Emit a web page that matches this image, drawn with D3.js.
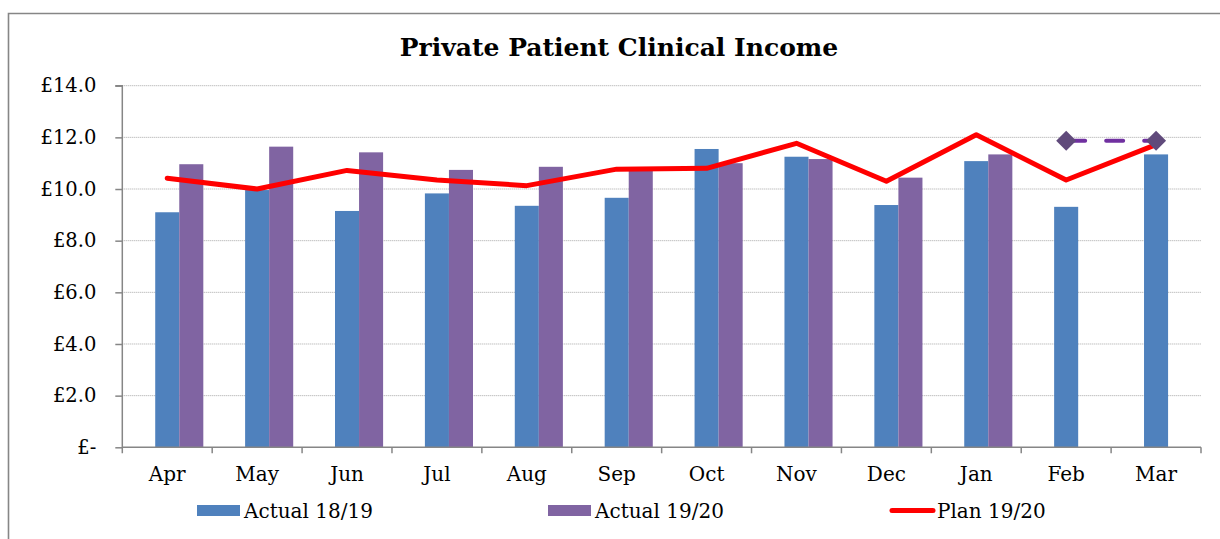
<!DOCTYPE html>
<html><head><meta charset="utf-8">
<script src="https://cdn.jsdelivr.net/npm/d3@7"></script>
<style>
html,body{margin:0;padding:0;background:#fff;}
svg{display:block;font-family:"DejaVu Serif",Georgia,serif;}
</style></head>
<body><svg id="c" width="1220" height="539"></svg>
<script>
const months = ["Apr","May","Jun","Jul","Aug","Sep","Oct","Nov","Dec","Jan","Feb","Mar"];
const actual1819 = [9.10, 9.96, 9.15, 9.83, 9.35, 9.66, 11.55, 11.25, 9.38, 11.08, 9.31, 11.34];
const actual1920 = [10.96, 11.64, 11.42, 10.74, 10.86, 10.75, 11.00, 11.16, 10.44, 11.34, null, null];
const plan1920 = [10.42, 10.00, 10.72, 10.35, 10.13, 10.77, 10.80, 11.77, 10.30, 12.10, 10.35, 11.72];
const forecast = [null, null, null, null, null, null, null, null, null, null, 11.87, 11.87];
const yTicks = [0, 2, 4, 6, 8, 10, 12, 14];
const legendLabels = ["Actual 18/19", "Actual 19/20", "Plan 19/20"];
const title = "Private Patient Clinical Income";

const svg = d3.select("#c");
const L = 122.3, R = 1201, T = 85.7, B = 447.3;

// outer frame
svg.append("path").attr("d", "M8.5,539 L8.5,13.5 L1220,13.5")
  .attr("fill","none").attr("stroke","#868686").attr("stroke-width",1.6);

svg.append("text").attr("x", 619).attr("y", 56).attr("text-anchor","middle")
  .attr("font-weight","bold").attr("font-size", 25).attr("fill","#000").text(title);

const x = d3.scaleBand().domain(months).range([L, R]).paddingInner(0).paddingOuter(0);
const sub = d3.scaleBand().domain(["hidden","a","b"]).range([0, x.bandwidth()]).paddingInner(0).paddingOuter(0.369);
const y = d3.scaleLinear().domain([0, 14]).range([B, T]);

// gridlines
svg.append("g").selectAll("line").data(yTicks.filter(d => d > 0)).join("line")
  .attr("x1", L).attr("x2", R).attr("y1", d => y(d)).attr("y2", d => y(d))
  .attr("stroke", "#a6a6a6").attr("stroke-width", 1).attr("stroke-dasharray", "1,1");

// bars
const g = svg.append("g");
g.selectAll("rect.a").data(actual1819.map((v,i)=>({m:months[i],v}))).join("rect")
  .attr("x", d => x(d.m) + sub("a")).attr("width", sub.bandwidth())
  .attr("y", d => y(d.v)).attr("height", d => B - y(d.v)).attr("fill", "#4F81BD");
g.selectAll("rect.b").data(actual1920.map((v,i)=>({m:months[i],v})).filter(d => d.v != null)).join("rect")
  .attr("x", d => x(d.m) + sub("b")).attr("width", sub.bandwidth())
  .attr("y", d => y(d.v)).attr("height", d => B - y(d.v)).attr("fill", "#8064A2");

// y axis
const yAxis = d3.axisLeft(y).tickValues(yTicks).tickSize(7).tickPadding(19)
  .tickFormat(d => d === 0 ? "£-" : "£" + d.toFixed(1));
const ya = svg.append("g").attr("transform", `translate(${L},0)`).call(yAxis);
ya.select(".domain").attr("stroke","#868686").attr("stroke-width",1.5).attr("d", `M-7,${T}H0V${B+6}`);
ya.selectAll(".tick line").attr("stroke","#868686").attr("stroke-width",1.5);
ya.selectAll("text").attr("font-size", 19.5).attr("fill","#000").attr("font-family","DejaVu Serif");

// x axis
const xAxis = d3.axisBottom(x).tickSize(0).tickPadding(20);
const xa = svg.append("g").attr("transform", `translate(0,${B})`).call(xAxis);
xa.select(".domain").attr("stroke","#868686").attr("stroke-width",1.5).attr("d", `M${L},0H${R}`);
xa.selectAll("text").attr("font-size", 20).attr("fill","#000").attr("font-family","DejaVu Serif");
xa.append("g").selectAll("line").data(months.slice(1).concat(["__end"])).join("line")
  .attr("x1", d => d === "__end" ? R : x(d)).attr("x2", d => d === "__end" ? R : x(d))
  .attr("y1", 0).attr("y2", 6).attr("stroke","#868686").attr("stroke-width",1.5);

// plan line
const line = d3.line().defined(d => d.v != null).x(d => x(d.m) + x.bandwidth()/2).y(d => y(d.v));
svg.append("path").datum(plan1920.map((v,i)=>({m:months[i],v})))
  .attr("d", line).attr("fill","none").attr("stroke","#FF0000").attr("stroke-width",5)
  .attr("stroke-linejoin","round").attr("stroke-linecap","round");

// forecast
const fc = forecast.map((v,i)=>({m:months[i],v})).filter(d => d.v != null);
svg.append("path").datum(fc).attr("d", line).attr("fill","none").attr("stroke","#7030A0")
  .attr("stroke-width",4).attr("stroke-dasharray","17,21").attr("stroke-dashoffset","-2").attr("stroke-linecap","round");
svg.append("g").selectAll("path").data(fc).join("path")
  .attr("transform", d => `translate(${x(d.m)+x.bandwidth()/2},${y(d.v)})`)
  .attr("d", "M0,-10 L10,0 L0,10 L-10,0 Z").attr("fill","#604A7B");

// legend
const lg = svg.append("g");
const lx = [197, 548, 890];
lg.append("rect").attr("x", lx[0]).attr("y", 505).attr("width", 43).attr("height", 11).attr("fill","#4F81BD");
lg.append("rect").attr("x", lx[1]).attr("y", 505).attr("width", 43).attr("height", 11).attr("fill","#8064A2");
lg.append("line").attr("x1", lx[2]+2).attr("x2", lx[2]+43).attr("y1", 510.5).attr("y2", 510.5)
  .attr("stroke","#FF0000").attr("stroke-width",5).attr("stroke-linecap","round");
lg.selectAll("text").data(legendLabels).join("text")
  .attr("x", (d,i) => lx[i] + 47).attr("y", 518).attr("font-size", 20).attr("fill","#000").text(d => d);
</script></body></html>
